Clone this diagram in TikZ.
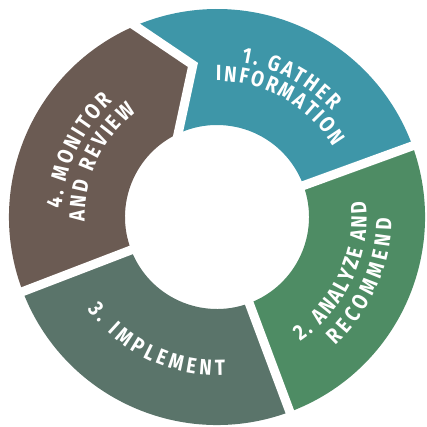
\documentclass[tikz,border=0pt]{standalone}
\usepackage{fontspec}
\newfontfamily\lbl{Fira Sans}[FakeStretch=0.85]
\usetikzlibrary{decorations.text,calc}
\definecolor{segA}{RGB}{62,150,168}
\definecolor{segB}{RGB}{78,140,100}
\definecolor{segC}{RGB}{90,116,106}
\definecolor{segD}{RGB}{107,91,83}
\tikzset{
  gapline/.style={draw=white, line width=9pt, line join=miter},
  arctext/.style={decorate, decoration={text along path, text align={fit to path}, text color=white,
     text={|\lbl\bfseries\fontsize{22}{22}\selectfont|#1}}}
}
\begin{document}
\begin{tikzpicture}[x=1pt,y=1pt]
\useasboundingbox (-217,-210) rectangle (209,217);
\coordinate (tipO) at (113.2:208);
\coordinate (tipT) at (99:154);
\coordinate (tipI) at (115:92);
% segments
\fill[segA] (20:208) arc[start angle=20, end angle=113.2, radius=208] -- (tipT) -- (tipI) arc[start angle=115, end angle=20, radius=92] -- cycle;
\fill[segB] (-69.5:208) arc[start angle=-69.5, end angle=20, radius=208] -- (20:92) arc[start angle=20, end angle=-69.5, radius=92] -- cycle;
\fill[segC] (201:208) arc[start angle=201, end angle=290.5, radius=208] -- (-69.5:92) arc[start angle=290.5, end angle=201, radius=92] -- cycle;
\fill[segD] (tipO) arc[start angle=113.2, end angle=201, radius=208] -- (201:92) arc[start angle=201, end angle=115, radius=92] -- (tipT) -- cycle;
% gaps
\draw[gapline] (20:80) -- (20:225);
\draw[gapline] (-69.5:80) -- (-69.5:225);
\draw[gapline] (201:80) -- (201:225);
\draw[gapline] ($(tipT)!1.3!(tipO)$) -- (tipT) -- ($(tipT)!1.3!(tipI)$);
% labels
\path[arctext={1. GATHER}] (81:156.5) arc[start angle=81, end angle=42.5, radius=156.5];
\path[arctext={INFORMATION}] (90.5:136) arc[start angle=90.5, end angle=31, radius=136];
\path[arctext={2. ANALYZE AND}] (-56:149.6) arc[start angle=-56, end angle=6, radius=149.6];
\path[arctext={RECOMMEND}] (-47.5:174.6) arc[start angle=-47.5, end angle=-0.5, radius=174.6];
\path[arctext={3. IMPLEMENT}] (215.5:158.6) arc[start angle=215.5, end angle=273, radius=158.6];
\path[arctext={4. MONITOR}] (177:155.4) arc[start angle=177, end angle=132, radius=155.4];
\path[arctext={AND REVIEW}] (182:132.4) arc[start angle=182, end angle=127.5, radius=132.4];
\end{tikzpicture}
\end{document}
